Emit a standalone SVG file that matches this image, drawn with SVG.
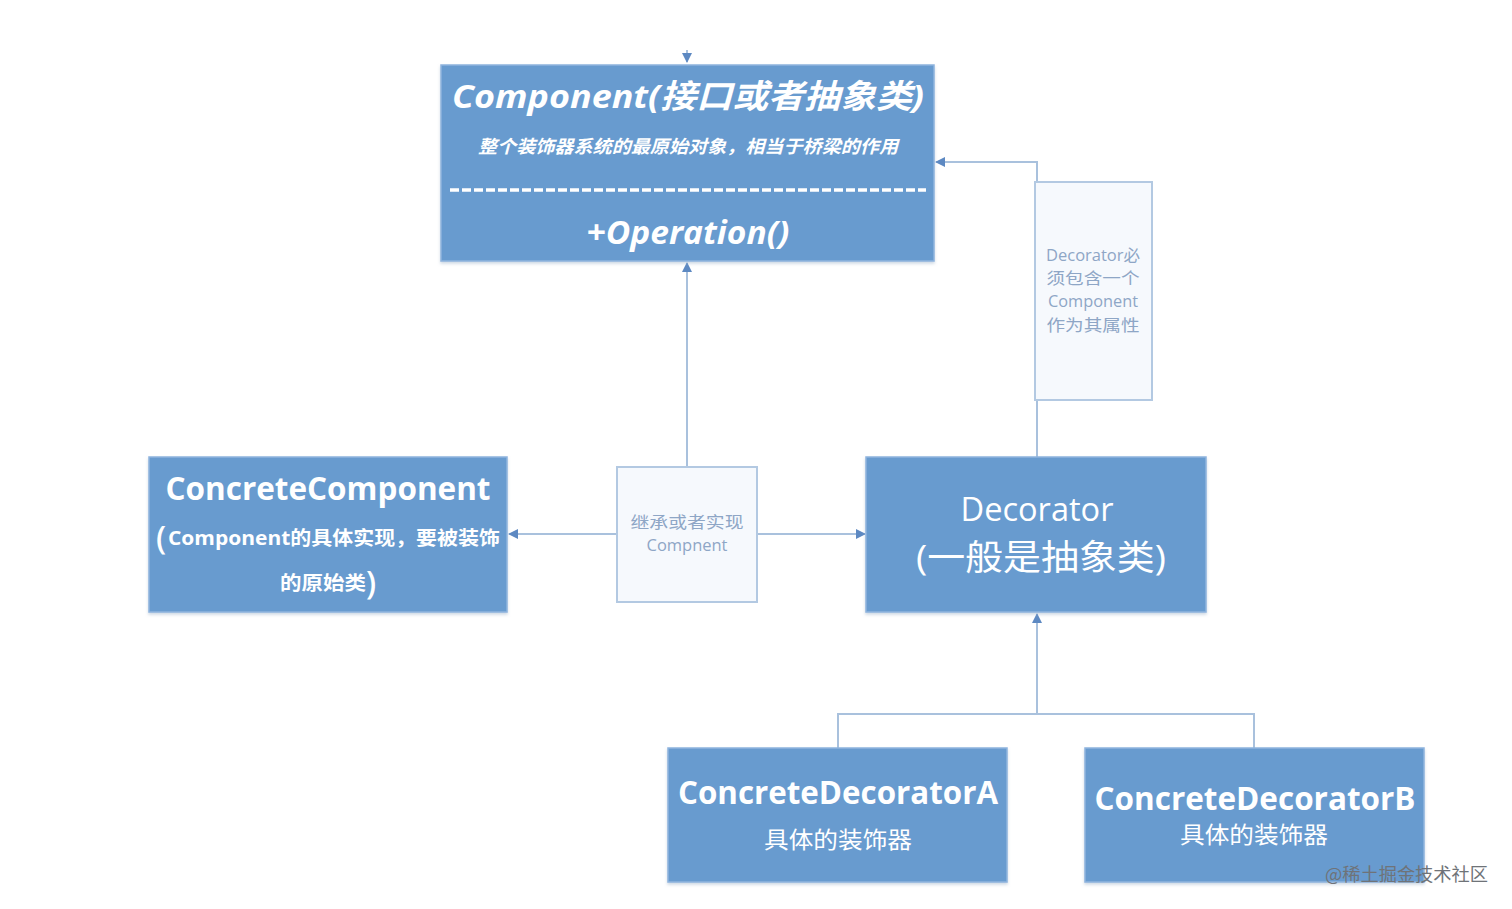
<svg xmlns="http://www.w3.org/2000/svg" width="1512" height="909" viewBox="0 0 1512 909">
<style>
.box{fill:#689bcf;stroke:#8fb4de;stroke-width:1.5}
.note{fill:#f6f9fd;stroke:#b3c9e2;stroke-width:2}
.wt{fill:#ffffff;font-family:"Open Sans","Noto Sans CJK SC",sans-serif}
.nt{fill:#8ea6c6;font-family:"Open Sans","Noto Sans CJK SC",sans-serif;font-size:16px}
.conn{fill:none;stroke:#a9c1dd;stroke-width:2}
</style>
<defs>
<marker id="arr" viewBox="0 0 10 10" refX="9" refY="5" markerWidth="10" markerHeight="10" markerUnits="userSpaceOnUse" orient="auto">
<path d="M0,0 L10,5 L0,10 z" fill="#5d89c2"/>
</marker>
<filter id="sh" x="-5%" y="-5%" width="110%" height="115%">
<feDropShadow dx="0" dy="2" stdDeviation="1.5" flood-color="#9fb3c9" flood-opacity="0.5"/>
</filter>
<linearGradient id="ng" x1="0" y1="0" x2="0" y2="1">
<stop offset="0" stop-color="#edf2f9"/>
<stop offset="1" stop-color="#ffffff"/>
</linearGradient>
</defs>

<g id="connectors">
<line class="conn" x1="687" y1="50" x2="687" y2="62" marker-end="url(#arr)"/>
<line class="conn" x1="687" y1="467" x2="687" y2="263" marker-end="url(#arr)"/>
<line class="conn" x1="617" y1="534" x2="509" y2="534" marker-end="url(#arr)"/>
<line class="conn" x1="757" y1="534" x2="865" y2="534" marker-end="url(#arr)"/>
<polyline class="conn" points="1037,457 1037,162 936,162" marker-end="url(#arr)"/>
<polyline class="conn" points="1037,714 1037,614" marker-end="url(#arr)"/>
<polyline class="conn" points="838,748 838,714 1254,714 1254,748"/>
</g>

<g id="component">
<rect class="box" x="441" y="65" width="493" height="196" filter="url(#sh)"/>
<text class="wt" x="688" y="108" text-anchor="middle" font-size="33" font-weight="bold" font-style="italic" textLength="472" lengthAdjust="spacingAndGlyphs">Component(接口或者抽象类)</text>
<text class="wt" x="688" y="153" text-anchor="middle" font-size="18" font-weight="bold" font-style="italic" textLength="420" lengthAdjust="spacingAndGlyphs">整个装饰器系统的最原始对象，相当于桥梁的作用</text>
<line x1="450" y1="190" x2="926" y2="190" stroke="#ffffff" stroke-width="3.5" stroke-dasharray="9,3"/>
<text class="wt" x="688" y="244" text-anchor="middle" font-size="32" font-weight="bold" font-style="italic" textLength="203" lengthAdjust="spacingAndGlyphs">+Operation()</text>
</g>

<g id="note-inherit">
<rect class="note" x="617" y="467" width="140" height="135" fill="url(#ng)"/>
<text class="nt" x="687" y="528" text-anchor="middle" textLength="113" lengthAdjust="spacingAndGlyphs">继承或者实现</text>
<text class="nt" x="687" y="551" text-anchor="middle" font-size="15" textLength="81" lengthAdjust="spacingAndGlyphs">Compnent</text>
</g>

<g id="note-decorator">
<rect class="note" x="1035" y="182" width="117" height="218" fill="url(#ng)"/>
<text class="nt" x="1093" y="261" text-anchor="middle" textLength="94" lengthAdjust="spacingAndGlyphs">Decorator必</text>
<text class="nt" x="1093" y="284" text-anchor="middle" textLength="93" lengthAdjust="spacingAndGlyphs">须包含一个</text>
<text class="nt" x="1093" y="307" text-anchor="middle" font-size="15" textLength="90" lengthAdjust="spacingAndGlyphs">Component</text>
<text class="nt" x="1093" y="331" text-anchor="middle" textLength="93" lengthAdjust="spacingAndGlyphs">作为其属性</text>
</g>

<g id="concrete-component">
<rect class="box" x="149" y="457" width="358" height="155" filter="url(#sh)"/>
<text class="wt" x="328" y="500" text-anchor="middle" font-size="32" font-weight="bold" textLength="325" lengthAdjust="spacingAndGlyphs">ConcreteComponent</text>
<text class="wt" x="156" y="549" font-size="32" font-weight="600">(</text>
<text class="wt" x="168" y="545" font-size="19" font-weight="bold" textLength="332" lengthAdjust="spacingAndGlyphs">Component的具体实现，要被装饰</text>
<text class="wt" x="280" y="590" font-size="19" font-weight="bold" textLength="86" lengthAdjust="spacingAndGlyphs">的原始类</text>
<text class="wt" x="366" y="594" font-size="32" font-weight="600">)</text>
</g>

<g id="decorator">
<rect class="box" x="866" y="457" width="340" height="155" filter="url(#sh)"/>
<text class="wt" x="1037" y="521" text-anchor="middle" font-size="32" textLength="153" lengthAdjust="spacingAndGlyphs">Decorator</text>
<text class="wt" x="1041" y="570" text-anchor="middle" font-size="35" textLength="250" lengthAdjust="spacingAndGlyphs">(一般是抽象类)</text>
</g>

<g id="concrete-decorator-a">
<rect class="box" x="668" y="748" width="339" height="134" filter="url(#sh)"/>
<text class="wt" x="838" y="804" text-anchor="middle" font-size="32" font-weight="bold" textLength="320" lengthAdjust="spacingAndGlyphs">ConcreteDecoratorA</text>
<text class="wt" x="838" y="848" text-anchor="middle" font-size="23" textLength="148" lengthAdjust="spacingAndGlyphs">具体的装饰器</text>
</g>

<g id="concrete-decorator-b">
<rect class="box" x="1085" y="748" width="339" height="134" filter="url(#sh)"/>
<text class="wt" x="1255" y="810" text-anchor="middle" font-size="32" font-weight="bold" textLength="321" lengthAdjust="spacingAndGlyphs">ConcreteDecoratorB</text>
<text class="wt" x="1254" y="843" text-anchor="middle" font-size="23" textLength="148" lengthAdjust="spacingAndGlyphs">具体的装饰器</text>
</g>

<text x="1325" y="881" font-family="'Noto Sans CJK SC',sans-serif" font-size="18" fill="#6f7378" textLength="163" lengthAdjust="spacingAndGlyphs">@稀土掘金技术社区</text>
</svg>
